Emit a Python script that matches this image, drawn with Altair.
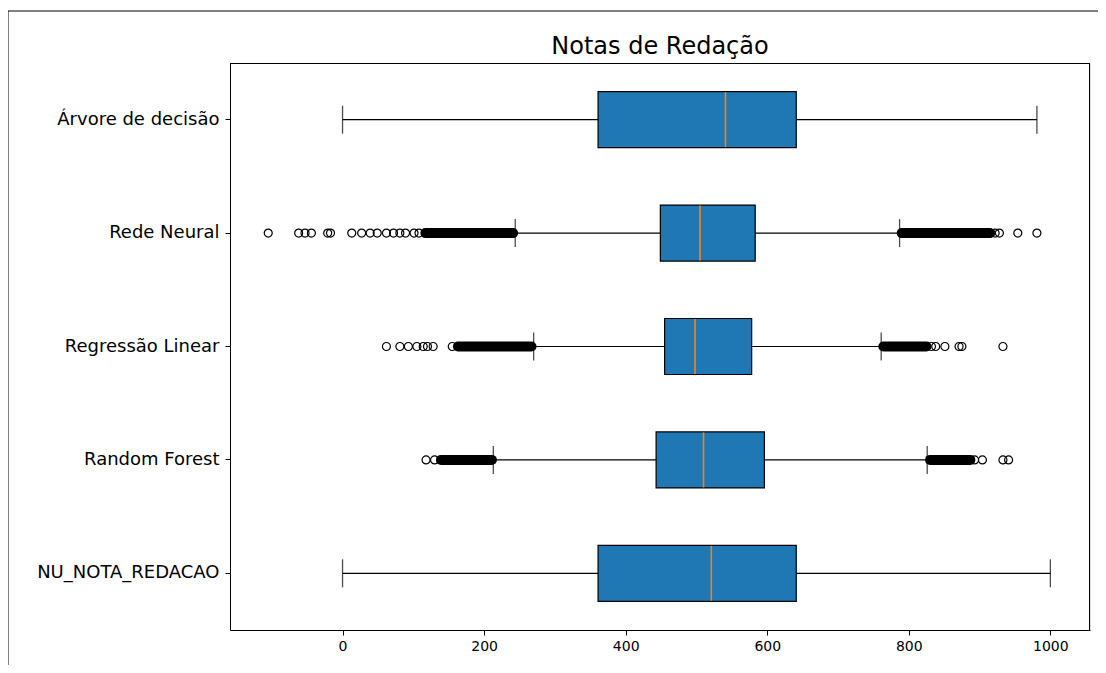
import altair as alt
import pandas as pd

# --- data ---
title_text = "Notas de Redação"
categories = ["Árvore de decisão", "Rede Neural", "Regressão Linear", "Random Forest", "NU_NOTA_REDACAO"]
whisker_low = [0, 244, 270, 213, 0]
q1 = [361, 449, 455, 443, 361]
median = [541, 505, 498, 510, 521]
q3 = [641, 583, 578, 596, 641]
whisker_high = [981, 787, 761, 826, 1000]

# dense runs of overlapping outliers (first and last circle centre)
band_category = ["Rede Neural", "Rede Neural", "Regressão Linear", "Regressão Linear", "Random Forest", "Random Forest"]
band_low = [117, 790, 163, 764, 139, 830]
band_high = [241, 914, 267, 825, 211, 887]

# isolated outliers
out_rede = [-105, -62, -53, -44, -21, -17, 13, 27, 39, 49, 62, 72, 81, 89, 101, 108, 916, 922, 928, 954, 981]
out_regr = [62, 81, 93, 105, 114, 120, 128, 155, 832, 838, 851, 871, 875, 933]
out_rf = [118, 130, 893, 904, 933, 941]

x_ticks = [0, 200, 400, 600, 800, 1000]

stats = pd.DataFrame({
    "category": categories,
    "wlo": whisker_low,
    "q1": q1,
    "med": median,
    "q3": q3,
    "whi": whisker_high,
})
bands = pd.DataFrame({"category": band_category, "lo": band_low, "hi": band_high})
outliers = pd.DataFrame({
    "category": ["Rede Neural"] * len(out_rede) + ["Regressão Linear"] * len(out_regr) + ["Random Forest"] * len(out_rf),
    "value": out_rede + out_regr + out_rf,
})

FONT = "DejaVu Sans"
W, H = 860, 567
xscale = alt.Scale(domain=[-159, 1056], nice=False, zero=False)
yscale = alt.Scale(type="band", domain=categories, paddingInner=0, paddingOuter=0)


def Y(axis=True):
    if axis:
        return alt.Y("category:N", scale=yscale, sort=categories,
                     axis=alt.Axis(title=None, labelFontSize=18, labelColor="black", labelFont=FONT,
                                   labelLimit=400, tickColor="black", tickSize=5, labelPadding=6,
                                   domain=True, domainColor="black", grid=False))
    return alt.Y("category:N", scale=yscale, sort=categories)


xaxis = alt.Axis(title=None, values=x_ticks, format="d", labelFontSize=14, labelColor="black", labelFont=FONT,
                 tickColor="black", tickSize=5, labelPadding=4, domain=True, domainColor="black", grid=False)

whiskers = alt.Chart(stats).mark_rule(color="black", strokeWidth=1.2).encode(
    x=alt.X("wlo:Q", scale=xscale, axis=xaxis), x2="whi:Q", y=Y(True))

caps_lo = alt.Chart(stats).mark_tick(color="black", size=28, thickness=1.3).encode(
    x=alt.X("wlo:Q", scale=xscale), y=Y(False))
caps_hi = alt.Chart(stats).mark_tick(color="black", size=28, thickness=1.3).encode(
    x=alt.X("whi:Q", scale=xscale), y=Y(False))

boxes = alt.Chart(stats).mark_bar(size=56, color="#1f77b4", stroke="black", strokeWidth=1.2).encode(
    x=alt.X("q1:Q", scale=xscale), x2="q3:Q", y=Y(False))

medians = alt.Chart(stats).mark_tick(color="#ff7f0e", size=55, thickness=1.6, opacity=1).encode(
    x=alt.X("med:Q", scale=xscale), y=Y(False))

dense = alt.Chart(bands).mark_rule(color="black", strokeWidth=10, strokeCap="round").encode(
    x=alt.X("lo:Q", scale=xscale), x2="hi:Q", y=Y(False))

points = alt.Chart(outliers).mark_point(shape="circle", filled=False, color="black", size=64,
                                        strokeWidth=1.2, opacity=1).encode(
    x=alt.X("value:Q", scale=xscale), y=Y(False))

# title drawn as a text mark above the plot
title_df = pd.DataFrame({"t": [title_text]})
title = alt.Chart(title_df).mark_text(fontSize=24, font=FONT, color="black", align="center",
                                      baseline="alphabetic", clip=False).encode(
    text="t:N", x=alt.value(W / 2), y=alt.value(-9))

one = pd.DataFrame({"a": [0]})
# top and right spines of the plot frame
spine_top = alt.Chart(one).mark_rule(color="black", strokeWidth=1).encode(
    x=alt.value(0), x2=alt.value(W), y=alt.value(0.5))
spine_right = alt.Chart(one).mark_rule(color="black", strokeWidth=1).encode(
    x=alt.value(W - 0.5), y=alt.value(0), y2=alt.value(H))

# notebook output frame (top and left edges of the screenshot)
frame_left = alt.Chart(one).mark_rule(color="black", strokeWidth=1, clip=False).encode(
    x=alt.value(-222), y=alt.value(-52), y2=alt.value(602))
frame_top = alt.Chart(one).mark_rule(color="black", strokeWidth=1, clip=False).encode(
    x=alt.value(-222), x2=alt.value(868), y=alt.value(-52))

chart = alt.layer(whiskers, caps_lo, caps_hi, boxes, medians, dense, points, title,
                  spine_top, spine_right, frame_left, frame_top).properties(
    width=W,
    height=H,
    autosize=alt.AutoSizeParams(type="none"),
    padding={"left": 222, "top": 55, "right": 8, "bottom": 35},
).configure_view(stroke="black", strokeWidth=1).configure(font=FONT, background="white")

chart.save("out.html", embed_options={"renderer": "svg", "actions": False})
